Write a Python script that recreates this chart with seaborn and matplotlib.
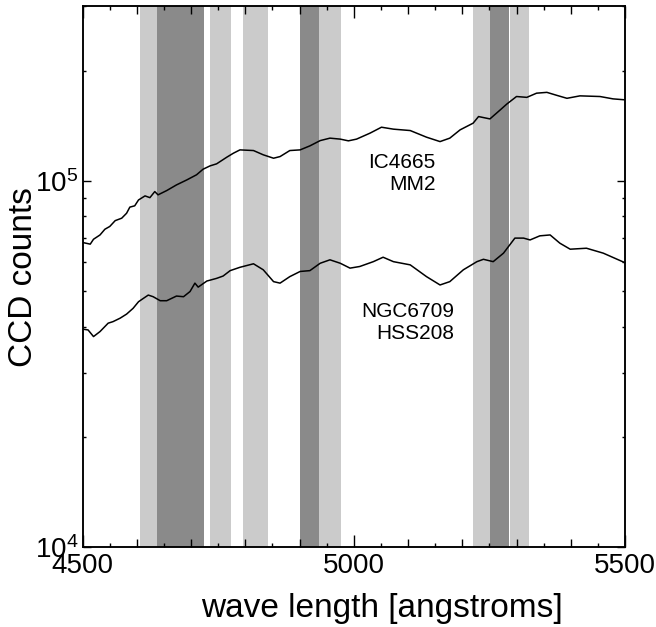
import numpy as np
import pandas as pd
import seaborn as sns
import matplotlib.pyplot as plt
from matplotlib.ticker import MultipleLocator, LogLocator, NullFormatter

# spectra (wavelength in angstroms, CCD counts)
wl_upper = [4500, 4514, 4520, 4532, 4541, 4550, 4560, 4572, 4581, 4587,
            4596, 4603, 4615, 4624, 4633, 4639, 4655, 4673, 4692, 4710,
            4722, 4735, 4747, 4766, 4778, 4790, 4815, 4833, 4852, 4864,
            4882, 4901, 4919, 4938, 4956, 4975, 4990, 5005, 5030, 5051,
            5073, 5104, 5134, 5159, 5177, 5196, 5220, 5230, 5251, 5270,
            5282, 5300, 5319, 5337, 5356, 5374, 5393, 5417, 5454, 5478, 5500]
counts_upper = [67900, 67200, 69300, 71200, 73800, 75100, 77900, 79100, 81600, 84800,
                85500, 88700, 91000, 90000, 93500, 91600, 94100, 97500, 100600, 103900,
                107600, 109900, 111300, 116100, 119000, 121500, 121000, 117800, 115300, 116500,
                121000, 121500, 124600, 128800, 130800, 130000, 128600, 130000, 135000, 140100,
                138400, 137200, 131600, 128000, 130800, 137800, 143700, 149800, 147600, 156200,
                162000, 169900, 169000, 173500, 174400, 171200, 168000, 170600, 169900, 167400, 166400]

wl_lower = [4500, 4510, 4520, 4532, 4547, 4556, 4569, 4581, 4593, 4603,
            4612, 4621, 4630, 4643, 4655, 4673, 4686, 4698, 4707, 4713,
            4729, 4747, 4759, 4772, 4790, 4815, 4833, 4852, 4864, 4882,
            4901, 4919, 4938, 4956, 4975, 4993, 5011, 5036, 5054, 5073,
            5104, 5134, 5159, 5177, 5202, 5227, 5239, 5257, 5276, 5297,
            5313, 5325, 5343, 5362, 5380, 5399, 5429, 5460, 5500]
counts_lower = [39400, 39200, 37600, 38800, 40900, 41300, 42200, 43300, 44900, 46800,
                47800, 48800, 48300, 47100, 47100, 48500, 48300, 49900, 52600, 51300,
                53300, 54200, 55000, 56900, 58100, 59400, 57200, 53100, 52600, 54800,
                56600, 56900, 59600, 60900, 59600, 57800, 58400, 60200, 61900, 60200,
                59000, 54800, 52000, 53100, 57200, 60200, 61100, 60200, 63500, 69800,
                69800, 69000, 70800, 71200, 67600, 65100, 65500, 63500, 59800]

# shaded index windows
band_lo = [4605, 4638, 4735, 4795, 4901, 4936, 5220, 5251, 5288]
band_hi = [4638, 4723, 4773, 4841, 4936, 4976, 5251, 5286, 5323]
band_dark = [False, True, False, False, True, False, False, True, False]

labels = [("IC4665", 5151, 108300), ("MM2", 5151, 94500),
          ("NGC6709", 5186, 42540), ("HSS208", 5186, 37050)]

sns.set_style("ticks")
plt.rcParams['font.family'] = ['Liberation Sans', 'DejaVu Sans']
plt.rcParams.update({'text.color': 'black', 'axes.labelcolor': 'black',
                     'xtick.color': 'black', 'ytick.color': 'black',
                     'axes.edgecolor': 'black'})

fig, ax = plt.subplots(figsize=(6.56, 6.27), dpi=100)
fig.subplots_adjust(left=0.126, right=0.9527, bottom=0.127, top=0.9904)

for lo, hi, dark in zip(band_lo, band_hi, band_dark):
    ax.axvspan(lo, hi, color='#8a8a8a' if dark else '#cbcbcb', lw=0, zorder=0)

df_up = pd.DataFrame({"wl": wl_upper, "counts": counts_upper})
df_lo = pd.DataFrame({"wl": wl_lower, "counts": counts_lower})
sns.lineplot(data=df_up, x="wl", y="counts", ax=ax, color='black', lw=1.1,
             estimator=None, sort=False, zorder=3)
sns.lineplot(data=df_lo, x="wl", y="counts", ax=ax, color='black', lw=1.1,
             estimator=None, sort=False, zorder=3)

for txt, x, y in labels:
    ax.text(x, y, txt, ha='right', va='baseline', fontsize=15, color='black', zorder=4)

ax.set_yscale('log')
ax.set_xlim(4500, 5500)
ax.set_ylim(1e4, 3e5)

# extra short ticks every 50 angstroms
ax2 = ax.twiny()
ax2.set_xlim(4500, 5500)
ax2.set_xticks(np.arange(4550, 5500, 100))
ax2.tick_params(axis='x', direction='in', length=3, width=1.0, color='black',
                top=True, bottom=True, labeltop=False, labelbottom=False)

ax.xaxis.set_major_locator(MultipleLocator(500))
ax.xaxis.set_minor_locator(MultipleLocator(100))
ax.yaxis.set_major_locator(LogLocator(base=10))
ax.yaxis.set_minor_locator(LogLocator(base=10, subs=np.arange(2, 10)))
ax.yaxis.set_minor_formatter(NullFormatter())

ax.tick_params(which='both', direction='in', top=True, right=True, width=1.0, colors='black')
ax.tick_params(axis='x', which='major', length=8.5, labelsize=20, pad=4)
ax.tick_params(axis='x', which='minor', length=5.5)
ax.tick_params(axis='y', which='major', length=6, labelsize=20, pad=3)
ax.tick_params(axis='y', which='minor', length=2.5)

for a in (ax, ax2):
    for s in a.spines.values():
        s.set_linewidth(1.1)
        s.set_color('black')

ax.set_xlabel("wave length [angstroms]", fontsize=24)
ax.set_ylabel("CCD counts", fontsize=24)
ax.xaxis.set_label_coords(0.551, -0.085)
ax.yaxis.set_label_coords(-0.08, 0.5)

fig.savefig("out.png", dpi=100)
